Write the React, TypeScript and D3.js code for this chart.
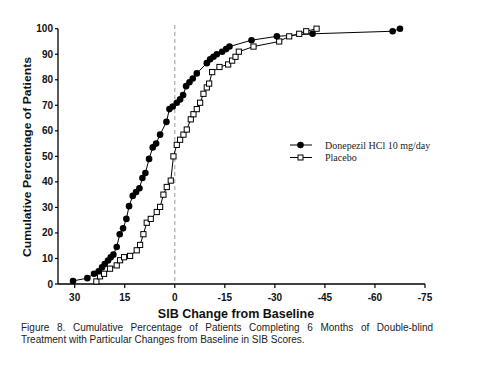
import React from "react";
import * as d3 from "d3";

const xTicks = [30, 15, 0, -15, -30, -45, -60, -75];
const yTicks = [0, 10, 20, 30, 40, 50, 60, 70, 80, 90, 100];

const donepezilChange = [30.5, 26.2, 24.2, 22.8, 21.8, 21, 20, 19.2, 18.4, 17.4, 16.5, 15.5, 14.5, 13.7, 12.6, 11.6, 10.6, 9.7, 8.8, 7.7, 6.6, 5.6, 4.4, 2.5, 1.6, 0.6, -0.6, -1.6, -2.5, -3.4, -4.4, -5.4, -6.6, -9.6, -10.6, -11.6, -12.6, -14.2, -15.4, -16.4, -23, -30.6, -41.3, -65.3, -67.5];
const donepezilPct = [1.2, 2.3, 4, 5, 6.5, 7.8, 9.2, 10.5, 11.5, 14.5, 19.5, 21.8, 25.5, 30.5, 34.5, 36, 37.5, 41.5, 43.5, 49, 53.5, 55, 58.5, 63.5, 68.5, 69.5, 71, 72.3, 74, 77.5, 79, 80.5, 82.5, 86.5, 88, 89, 90, 91, 92, 93, 95.5, 97, 98, 99, 100];

const placeboChange = [23.5, 22.4, 21.2, 19.4, 17.4, 16.4, 15.2, 13.4, 11.4, 10.4, 9.4, 8.4, 7.2, 5.4, 4.4, 3.4, 2.4, 1.2, 0.4, -0.6, -1.6, -2.6, -3.6, -4.8, -5.6, -6.6, -7.6, -8.6, -9.6, -10.3, -11.2, -13.4, -16, -17.2, -18.2, -19.2, -23.6, -31.3, -34.3, -37.3, -39.4, -42.5];
const placeboPct = [1, 3, 4, 6, 7.3, 9.3, 10.5, 11, 13.2, 15.3, 19.5, 24, 25.5, 28.2, 30.2, 35, 38, 40.5, 50, 54.5, 56.5, 58.5, 60.5, 64.5, 66.5, 68.5, 71, 74.5, 77, 78.5, 83, 85, 86, 87.5, 89, 91, 93, 95, 97, 98, 99, 100];

const seriesNames = ["Donepezil HCl 10 mg/day", "Placebo"];
const xTitle = "SIB Change from Baseline";
const yTitle = "Cumulative Percentage of Patients";
const captionLines = [
  "Figure 8. Cumulative Percentage of Patients Completing 6 Months of Double-blind",
  "Treatment with Particular Changes from Baseline in SIB Scores.",
];

export default function App() {
  const capRef = React.useRef<SVGTextElement>(null);
  const [wordSpacing, setWordSpacing] = React.useState(0);
  React.useEffect(() => {
    const el = capRef.current;
    if (!el) return;
    const w = el.getComputedTextLength();
    const spaces = captionLines[0].split(" ").length - 1;
    setWordSpacing(Math.max(0, (412 - w) / spaces));
  }, []);

  const x = d3.scaleLinear().domain([35, -75]).range([58, 425]);
  const y = d3.scaleLinear().domain([0, 100]).range([284, 28.7]);
  const don = donepezilChange.map((v, i) => [v, donepezilPct[i]] as [number, number]);
  const pla = placeboChange.map((v, i) => [v, placeboPct[i]] as [number, number]);
  const line = d3.line<[number, number]>().x((d) => x(d[0])).y((d) => y(d[1]));
  const sans = "'Liberation Sans', Arial, sans-serif";
  const serif = "'Liberation Serif', 'Times New Roman', serif";

  return (
    <svg width={487} height={365} style={{ position: "absolute", left: 0, top: 0, background: "#fff" }}>
      <rect width={487} height={365} fill="#fff" />
      {/* zero dashed line */}
      <line x1={x(0)} x2={x(0)} y1={25} y2={284} stroke="#aaa" strokeWidth={1.2} strokeDasharray="4,3" />
      {/* axes */}
      <line x1={58} x2={58} y1={y(100)} y2={y(0)} stroke="#000" strokeWidth={1.3} />
      <line x1={58} x2={x(-75)} y1={y(0)} y2={y(0)} stroke="#000" strokeWidth={1.3} />
      {yTicks.map((t) => (
        <g key={"y" + t}>
          <line x1={55} x2={58} y1={y(t)} y2={y(t)} stroke="#000" strokeWidth={1.2} />
          <text x={53} y={y(t)} dy="0.35em" textAnchor="end" fontFamily={sans} fontWeight="bold" fontSize={10} fill="#111">
            {t}
          </text>
        </g>
      ))}
      {xTicks.map((t) => (
        <g key={"x" + t}>
          <line x1={x(t)} x2={x(t)} y1={284} y2={288} stroke="#000" strokeWidth={1.2} />
          <text x={x(t)} y={300.5} textAnchor="middle" fontFamily={sans} fontWeight="bold" fontSize={10} fill="#111">
            {t}
          </text>
        </g>
      ))}
      <text x={236} y={318} textAnchor="middle" fontFamily={sans} fontWeight="bold" fontSize={12.5} fill="#111">
        {xTitle}
      </text>
      <text
        transform="translate(31,157) rotate(-90)"
        textAnchor="middle"
        fontFamily={sans}
        fontWeight="bold"
        fontSize={11.5}
        fill="#111"
        textLength={200}
        lengthAdjust="spacingAndGlyphs"
      >
        {yTitle}
      </text>
      {/* series */}
      <path d={line(pla) || ""} fill="none" stroke="#000" strokeWidth={1} />
      <path d={line(don) || ""} fill="none" stroke="#000" strokeWidth={1} />
      {pla.map((d, i) => (
        <rect key={"p" + i} x={x(d[0]) - 2.6} y={y(d[1]) - 2.6} width={5.2} height={5.2} fill="#fff" stroke="#000" strokeWidth={1} />
      ))}
      {don.map((d, i) => (
        <circle key={"d" + i} cx={x(d[0])} cy={y(d[1])} r={3.3} fill="#000" />
      ))}
      {/* legend */}
      <line x1={290} x2={312} y1={145} y2={145} stroke="#000" strokeWidth={1} />
      <circle cx={300.5} cy={145} r={3.3} fill="#000" />
      <text x={325} y={148.5} fontFamily={serif} fontSize={10} fill="#222">
        {seriesNames[0]}
      </text>
      <line x1={290} x2={312} y1={157.5} y2={157.5} stroke="#000" strokeWidth={1} />
      <rect x={298} y={155} width={5} height={5} fill="#fff" stroke="#000" strokeWidth={1} />
      <text x={325} y={161} fontFamily={serif} fontSize={10} fill="#222">
        {seriesNames[1]}
      </text>
      {/* caption */}
      <text ref={capRef} x={21} y={331} fontFamily={sans} fontSize={10} fill="#222" style={{ wordSpacing: wordSpacing + "px" }}>
        {captionLines[0]}
      </text>
      <text x={21} y={342.5} fontFamily={sans} fontSize={10} fill="#222">
        {captionLines[1]}
      </text>
    </svg>
  );
}
